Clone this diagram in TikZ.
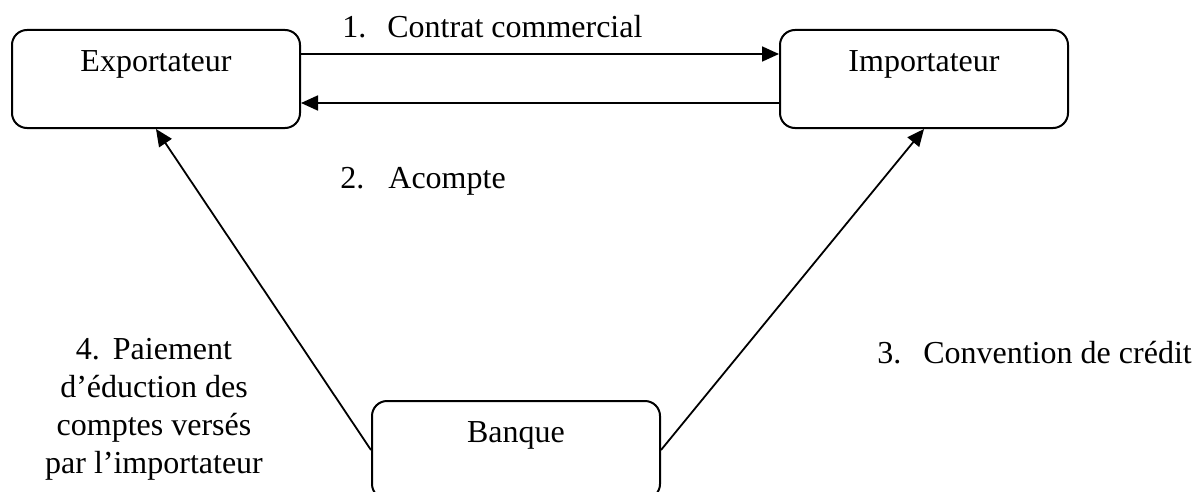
\documentclass[tikz,border=0pt]{standalone}
\usepackage{fontspec}
\setmainfont{Liberation Serif}
\usetikzlibrary{arrows.meta}
\begin{document}
\begin{tikzpicture}[x=0.5pt,y=-0.5pt,
  party/.style={draw, line width=1pt, rounded corners=7.5pt,
    minimum width=144pt, minimum height=49pt, inner sep=0pt},
  flow/.style={line width=0.9pt, -{Triangle[length=8.5pt,width=7.5pt]}},
  txt/.style={font=\fontsize{16}{19}\selectfont, inner sep=0pt}]
  \useasboundingbox (0,0) rectangle (1198,492);
  \clip (0,0) rectangle (1198,492);

  % the three parties
  \node[party] (exp) at (156,79) {};
  \node[party] (imp) at (924,79) {};
  \node[party] (bank) at (516,450) {};
  \node[txt, anchor=base] (expt) at ([yshift=-21.5pt]exp.north) {Exportateur};
  \node[txt, anchor=base] (impt) at ([yshift=-21.5pt]imp.north) {Importateur};
  \node[txt, anchor=base] (bankt) at ([yshift=-21pt]bank.north) {Banque};

  % flows between them
  \draw[flow] ([yshift=12.5pt]exp.east) -- ([yshift=12.5pt]imp.west);
  \draw[flow] ([yshift=-12pt]imp.west) -- ([yshift=-12pt]exp.east);
  \draw[flow] (bank.west) -- (exp.south);
  \draw[flow] (bank.east) -- (imp.south);

  % step labels
  \node[txt, anchor=base west] (l1) at (342,38) {\makebox[22.5pt][l]{1.}Contrat commercial};
  \node[txt, anchor=base west] (l2) at (340,188) {\makebox[24pt][l]{2.}Acompte};
  \node[txt, anchor=base west] (l3) at (877,363) {\makebox[23pt][l]{3.}Convention de crédit};
  \node[txt, anchor=base, align=center] (l4) at (154,473)
    {4.\hspace{6.5pt}Paiement\\d’éduction des\\comptes versés\\par l’importateur};
\end{tikzpicture}
\end{document}
